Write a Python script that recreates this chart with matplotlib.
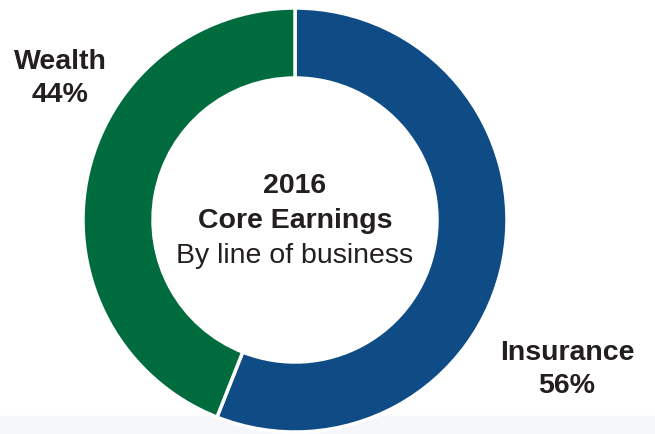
import matplotlib.pyplot as plt
from matplotlib.patches import Rectangle

plt.rcParams['font.family'] = ['Liberation Sans', 'DejaVu Sans']

# core earnings split by line of business (%)
segments = ["Insurance", "Wealth"]
shares = [56, 44]
colors = ["#0f4c86", "#006b3d"]
text_color = "#231f20"

fig = plt.figure(figsize=(6.55, 4.35), dpi=100)
# faint band along the bottom edge, kept behind the chart
fig.patches.append(Rectangle((0, 0), 1, 18 / 435, transform=fig.transFigure,
                             color="#f5f7fa", zorder=0))

ax = fig.add_axes([0, 0, 1, 1], zorder=1)
ax.patch.set_alpha(0)

ax.pie(shares, colors=colors, startangle=90, counterclock=False,
       center=(295, 214), radius=212, frame=True,
       wedgeprops=dict(width=70, edgecolor="white", linewidth=2.5))
ax.set_xlim(0, 655)
ax.set_ylim(0, 435)
ax.axis("off")

fs = 20.5

# centre title
ax.text(295, 435 - 186, "2016", ha="center", va="center", fontsize=fs,
        fontweight="bold", color=text_color)
ax.text(295, 435 - 221, "Core Earnings", ha="center", va="center", fontsize=fs,
        fontweight="bold", color=text_color)
ax.text(295, 435 - 256, "By line of business", ha="center", va="center",
        fontsize=fs, color=text_color)

# outside labels
label_pos = {"Insurance": (567, 435 - 353), "Wealth": (60, 435 - 62)}
for name, share in zip(segments, shares):
    x, y = label_pos[name]
    ax.text(x, y, name, ha="center", va="center", fontsize=fs,
            fontweight="bold", color=text_color)
    ax.text(x, y - 33, f"{share}%", ha="center", va="center", fontsize=fs,
            fontweight="bold", color=text_color)

fig.savefig("out.png", dpi=100)
